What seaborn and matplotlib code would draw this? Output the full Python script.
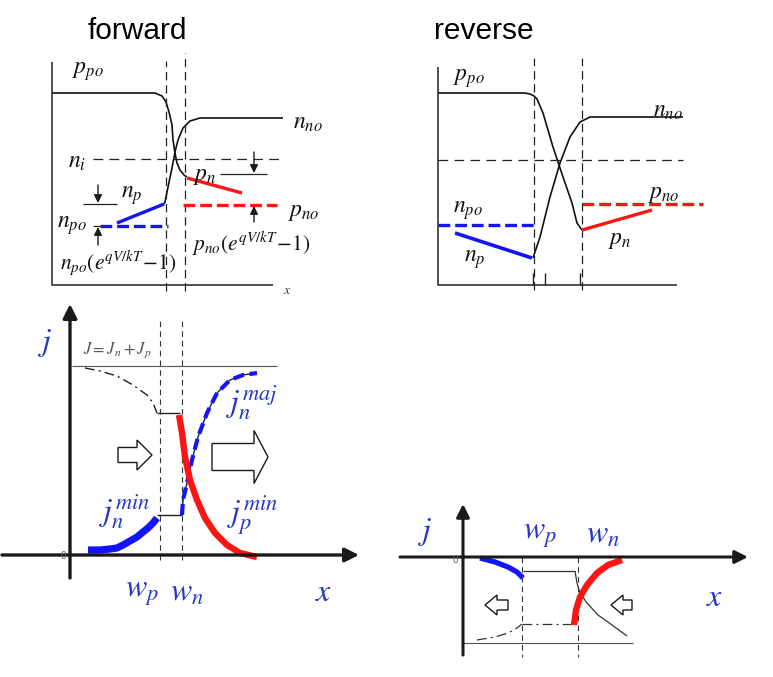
import matplotlib
matplotlib.use("Agg")
import matplotlib.pyplot as plt
from matplotlib.patches import FancyArrow
import seaborn as sns

sns.set_theme(style="white")
plt.rcParams["mathtext.fontset"] = "stix"
plt.rcParams["font.family"] = ["Liberation Sans", "DejaVu Sans"]
plt.rcParams["lines.scale_dashes"] = False
plt.rcParams["lines.solid_capstyle"] = "butt"
plt.rcParams["lines.dash_capstyle"] = "butt"

# ---- forward bias: carrier concentrations (schematic units) ----
fwd_p_x = [0, 103, 110, 114, 117, 120, 121, 123, 125, 128, 132, 135]
fwd_p_y = [192, 192, 189, 183, 173, 160, 145, 132, 122, 115, 110, 108]
fwd_n_x = [112, 113, 116, 120, 123, 126, 131, 138, 148, 231]
fwd_n_y = [81, 83, 98, 117, 133, 145, 157, 164, 167, 167]
fwd_np_x = [65, 112]
fwd_np_y = [62, 81]
fwd_npo_x = [48, 116]
fwd_npo_y = [59, 59]
fwd_pn_x = [135, 190]
fwd_pn_y = [107, 92]
fwd_pno_x = [131, 225]
fwd_pno_y = [80, 80]
fwd_ni = 126
fwd_edges = [114, 133]

# ---- reverse bias: carrier concentrations ----
rev_p_x = [0, 87, 92, 96, 99, 105, 115, 125, 134, 139, 144]
rev_p_y = [192, 192, 191, 189, 186, 172, 138, 108, 82, 62, 55]
rev_n_x = [95, 102, 112, 122, 132, 142, 152, 245]
rev_n_y = [27, 48, 88, 122, 148, 163, 168, 168]
rev_np_x = [17, 94]
rev_np_y = [52, 27]
rev_npo_x = [0, 96]
rev_npo_y = [60, 60]
rev_pn_x = [144, 214]
rev_pn_y = [55, 75]
rev_pno_x = [144, 265]
rev_pno_y = [81, 81]
rev_ni = 125
rev_edges = [96, 144]
rev_ticks = [95, 107, 142]

# ---- forward bias: current densities ----
fj_total = 189
fj_dd_x = [15, 30, 47, 63, 77, 83, 87]
fj_dd_y = [187, 184, 179, 170, 160, 152, 142]
fj_jp_x = [109, 112, 115, 120, 127, 135, 145, 157, 170, 187]
fj_jp_y = [140, 122, 98, 75, 55, 37, 22, 10, 2, -2]
fj_jmaj_x = [112, 113, 117, 122, 128, 137, 147, 160, 173, 187]
fj_jmaj_y = [40, 55, 72, 95, 118, 142, 162, 175, 180, 182]
fj_jmin_x = [18, 30, 40, 47, 53, 60, 67, 73, 78, 83, 87]
fj_jmin_y = [5, 5, 6, 7, 10, 14, 18, 23, 27, 32, 37]
fj_edges = [90, 112]

# ---- reverse bias: current densities ----
rj_jn_x = [17, 32, 45, 54, 60]
rj_jn_y = [-1, -5, -10, -15, -21]
rj_jn_gap = -14
rj_jpk_x = [112, 114, 117, 124, 135, 149, 164]
rj_jpk_y = [-14, -26, -36, -46, -58, -68, -79]
rj_jp_x = [111, 113, 117, 124, 134, 145, 159]
rj_jp_y = [-68, -53, -40, -28, -16, -8, -3]
rj_dd_x = [14, 32, 45, 54, 59]
rj_dd_y = [-83, -80, -76, -71, -67]
rj_dd_gap = -67
rj_total = -86
rj_edges = [59, 115]

BLUE = "#1414f5"
RED = "#ff1414"
LBLUE = "#2438c4"
W, H = 773, 677

fig = plt.figure(figsize=(W / 100, H / 100), dpi=100)


def panel(left, top, right, bottom, ox, oy):
    ax = fig.add_axes([left / W, 1 - bottom / H, (right - left) / W, (bottom - top) / H])
    ax.axis("off")
    ax._lims = (left - ox, right - ox, oy - bottom, oy - top)
    return ax


def finish(ax):
    x0, x1, y0, y1 = ax._lims
    ax.set_xlim(x0, x1)
    ax.set_ylim(y0, y1)


def line(ax, xs, ys, **kw):
    sns.lineplot(x=xs, y=ys, ax=ax, estimator=None, sort=False, **kw)


def arrow(ax, tail, tip, lw=1.0, ms=8, color="k"):
    ax.annotate("", xy=tip, xytext=tail,
                arrowprops=dict(arrowstyle="-|>,head_length=0.6,head_width=0.3",
                                lw=lw, color=color, mutation_scale=ms,
                                shrinkA=0, shrinkB=0))


def hollow(ax, x, y, dx, w, hw, hl):
    ax.add_patch(FancyArrow(x, y, dx, 0, width=w, head_width=hw, head_length=hl,
                            length_includes_head=True, fc="white", ec="k", lw=1.0))


TXT = dict(ha="center", va="center", color="#111111", fontsize=17)
FTXT = dict(ha="center", va="center", color="#111111", fontsize=15.5)
BTXT = dict(ha="center", va="center", color=LBLUE, fontsize=23)
dash_k = (0, (6, 3.5))
dash_c = (0, (8.5, 3.5))
dash_dot = (0, (7, 3, 1.5, 3))

# ================= top-left: forward =================
ax = panel(40, 45, 335, 300, 52, 285)
line(ax, [0, 0, 221], [223, 0, 0], color="#222222", lw=1.1)
line(ax, fwd_p_x, fwd_p_y, color="#111111", lw=1.2)
line(ax, fwd_n_x, fwd_n_y, color="#111111", lw=1.2)
for xe, top in zip(fwd_edges, [224, 232]):
    line(ax, [xe, xe], [-6, top], color="#222222", lw=0.9, linestyle=dash_k)
line(ax, [41, 228], [fwd_ni, fwd_ni], color="#222222", lw=0.9, linestyle=(0, (7, 4.5)))
line(ax, fwd_npo_x, fwd_npo_y, color=BLUE, lw=2.4, linestyle=dash_c)
line(ax, fwd_np_x, fwd_np_y, color=BLUE, lw=2.4)
line(ax, fwd_pno_x, fwd_pno_y, color=RED, lw=2.4, linestyle=dash_c)
line(ax, fwd_pn_x, fwd_pn_y, color=RED, lw=2.4)
line(ax, [31, 65], [81, 81], color="#222222", lw=0.9)
line(ax, [41, 48], [59, 59], color="#222222", lw=0.9)
line(ax, [168, 215], [111, 111], color="#222222", lw=0.9)
arrow(ax, (46, 100), (46, 82))
arrow(ax, (46, 40), (46, 58))
arrow(ax, (202, 133), (202, 112))
arrow(ax, (202, 63), (202, 79))
ax.text(36, 213, r"$p_{po}$", **TXT)
ax.text(256, 162, r"$n_{no}$", **TXT)
ax.text(25, 123, r"$n_i$", **TXT)
ax.text(80, 89, r"$n_p$", **TXT)
ax.text(20, 59, r"$n_{po}$", **TXT)
ax.text(153, 109, r"$p_n$", **TXT)
ax.text(252, 73, r"$p_{no}$", **TXT)
ax.text(66, 22, r"$n_{po}(e^{qV/kT}\!-\!1)$", **FTXT)
ax.text(199, 41, r"$p_{no}(e^{qV/kT}\!-\!1)$", **FTXT)
ax.text(235, -5, r"$x$", ha="center", va="center", fontsize=10, color="#333333")
finish(ax)

# ================= top-right: reverse =================
ax = panel(425, 45, 750, 300, 438, 285)
line(ax, [0, 0, 239], [218, 0, 0], color="#222222", lw=1.1)
for xt in rev_ticks:
    line(ax, [xt, xt], [0, 12], color="#222222", lw=1.0)
line(ax, rev_p_x, rev_p_y, color="#111111", lw=1.2)
line(ax, rev_n_x, rev_n_y, color="#111111", lw=1.2)
for xe in rev_edges:
    line(ax, [xe, xe], [-5, 227], color="#222222", lw=0.9, linestyle=dash_k)
line(ax, [0, 245], [rev_ni, rev_ni], color="#222222", lw=0.9, linestyle=(0, (7, 4.5)))
line(ax, rev_npo_x, rev_npo_y, color=BLUE, lw=2.4, linestyle=dash_c)
line(ax, rev_np_x, rev_np_y, color=BLUE, lw=2.6)
line(ax, rev_pno_x, rev_pno_y, color=RED, lw=2.4, linestyle=dash_c)
line(ax, rev_pn_x, rev_pn_y, color=RED, lw=2.4)
ax.text(31, 206, r"$p_{po}$", **TXT)
ax.text(230, 174, r"$n_{no}$", **TXT)
ax.text(226, 91, r"$p_{no}$", **TXT)
ax.text(30, 74, r"$n_{po}$", **TXT)
ax.text(37, 25, r"$n_p$", **TXT)
ax.text(182, 45, r"$p_n$", **TXT)
finish(ax)

# ================= bottom-left: forward currents =================
ax = panel(0, 300, 390, 625, 70, 555)
arrow(ax, (0, -23), (0, 251), lw=2.4, ms=14)
arrow(ax, (-68, 0), (289, 0), lw=2.4, ms=14)
line(ax, [2, 207], [fj_total, fj_total], color="#555555", lw=0.8)
line(ax, fj_dd_x, fj_dd_y, color="#222222", lw=1.0, linestyle=dash_dot)
line(ax, [87, 110], [142, 142], color="#222222", lw=1.0)
line(ax, [87, 112], [40, 40], color="#222222", lw=1.0)
for xe in fj_edges:
    line(ax, [xe, xe], [-5, 237], color="#333333", lw=0.8, linestyle=(0, (4, 3)))
line(ax, fj_jmaj_x, fj_jmaj_y, color="#222222", lw=1.0)
line(ax, fj_jmaj_x, fj_jmaj_y, color=BLUE, lw=3.0, linestyle=(0, (8, 4)))
line(ax, fj_jp_x, fj_jp_y, color=RED, lw=4.6)
line(ax, fj_jmin_x, fj_jmin_y, color=BLUE, lw=5.2)
hollow(ax, 48, 100, 34, 15, 30, 15)
hollow(ax, 142, 98, 56, 27, 53, 14)
ax.text(-25, 212, r"$j$", **BTXT)
ax.text(47, 205, r"$J = J_n + J_p$", ha="center", va="center", color="#555555", fontsize=12)
ax.text(55, 43, r"$j_n^{min}$", **BTXT)
ax.text(182, 152, r"$j_n^{maj}$", **BTXT)
ax.text(183, 40, r"$j_p^{min}$", **BTXT)
ax.text(72, -38, r"$w_p$", **BTXT)
ax.text(117, -38, r"$w_n$", **BTXT)
ax.text(254, -38, r"$x$", **BTXT)
ax.text(-7, -1, "0", ha="center", va="center", color="#666666", fontsize=7)
finish(ax)

# ================= bottom-right: reverse currents =================
ax = panel(395, 490, 773, 670, 463, 557)
arrow(ax, (0, -98), (0, 53), lw=2.2, ms=13)
arrow(ax, (-63, 0), (285, 0), lw=2.2, ms=13)
for xe in rj_edges:
    line(ax, [xe, xe], [0, -100], color="#333333", lw=0.8, linestyle=(0, (4, 3)))
line(ax, [60, 112], [rj_jn_gap, rj_jn_gap], color="#333333", lw=0.9)
line(ax, rj_jpk_x, rj_jpk_y, color="#333333", lw=0.9)
line(ax, [59, 111], [rj_dd_gap, rj_dd_gap], color="#333333", lw=0.9, linestyle=dash_dot)
line(ax, rj_dd_x, rj_dd_y, color="#333333", lw=0.9, linestyle=dash_dot)
line(ax, [0, 170], [rj_total, rj_total], color="#555555", lw=0.8)
line(ax, rj_jn_x, rj_jn_y, color=BLUE, lw=3.8)
line(ax, rj_jp_x, rj_jp_y, color=RED, lw=4.6)
hollow(ax, 45, -48, -23, 10, 20, 12)
hollow(ax, 169, -48, -21, 10, 20, 12)
ax.text(-38, 25, r"$j$", **BTXT)
ax.text(77, 22, r"$w_p$", **BTXT)
ax.text(140, 22, r"$w_n$", **BTXT)
ax.text(252, -41, r"$x$", **BTXT)
ax.text(-8, -3, "0", ha="center", va="center", color="#666666", fontsize=7)
finish(ax)

fig.text(137 / W, 1 - 31 / H, "forward", ha="center", va="center", fontsize=21.5, color="black")
fig.text(484 / W, 1 - 31 / H, "reverse", ha="center", va="center", fontsize=21.5, color="black")

fig.savefig("out.png", dpi=100, facecolor="white")
